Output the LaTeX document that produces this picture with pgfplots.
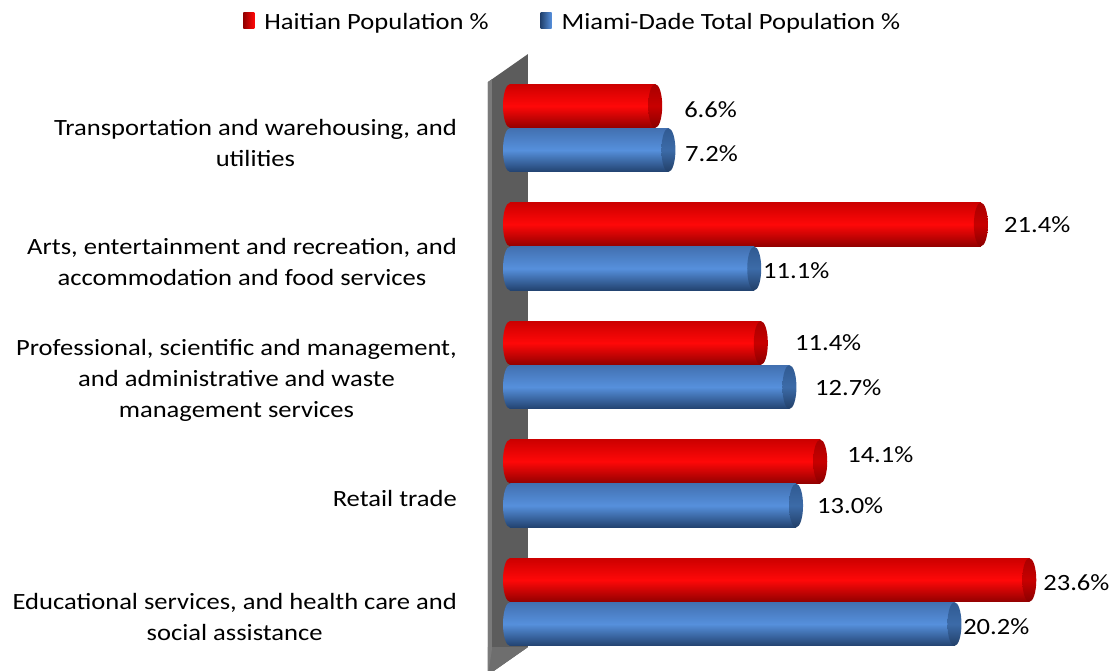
\documentclass[border=0pt]{standalone}
\usepackage{fontspec}
\setmainfont{Carlito}[FakeStretch=1.14]
\usepackage{pgfplots}
\usetikzlibrary{shapes.geometric}
\pgfplotsset{compat=1.18}
\definecolor{rtop}{HTML}{CC0000}
\definecolor{rmid}{HTML}{FF0808}
\definecolor{rbot}{HTML}{920000}
\definecolor{rcapt}{HTML}{A80000}
\definecolor{rcapm}{HTML}{C80000}
\definecolor{rcapb}{HTML}{8A0000}
\definecolor{btop}{HTML}{4270B0}
\definecolor{bmid}{HTML}{5690DC}
\definecolor{bbot}{HTML}{22426F}
\definecolor{bcapt}{HTML}{305A92}
\definecolor{bcapm}{HTML}{3C6BA8}
\definecolor{bcapb}{HTML}{223F68}
\definecolor{wall}{HTML}{5C5C5C}
\definecolor{wallL}{HTML}{7A7A7A}
\definecolor{wallB}{HTML}{6E6E6E}
\pgfplotsset{
  redbar/.style={xbar, bar shift=0pt, bar width=0.37, draw=none,
    top color=rtop, bottom color=rbot, middle color=rmid, forget plot},
  bluebar/.style={xbar, bar shift=0pt, bar width=0.37, draw=none,
    top color=btop, bottom color=bbot, middle color=bmid, forget plot},
  ends/.style n args={3}{only marks, mark=none, forget plot,
    nodes near coords={}, nodes near coords style={anchor=center, shape=ellipse,
      inner sep=0pt, outer sep=0pt, minimum width=14bp, minimum height=43.8bp,
      top color=#1, bottom color=#3, middle color=#2}},
}
\begin{document}
\begin{tikzpicture}[font=\fontsize{23.3bp}{31bp}\selectfont]
\path[use as bounding box] (0,0) rectangle (1114bp,671bp);
\begin{axis}[
  scale only axis, width=604bp, height=616.2bp,
  at={(510bp,-2.1bp)}, anchor=south west,
  xmin=0, xmax=27.45, ymin=-0.6, ymax=4.6,
  clip=false,
  axis line style={draw=none},
  xtick=\empty,
  ytick={0,1,2,3,4},
  yticklabels={{Educational services, and health care and\\social assistance},
               {Retail trade},
               {Professional, scientific and management,\\and administrative and waste\\management services},
               {Arts, entertainment and recreation, and\\accommodation and food services},
               {Transportation and warehousing, and\\utilities}},
  yticklabel style={align=center, inner sep=0pt, xshift=-53bp, yshift=-15bp, anchor=east},
  major tick length=0pt,
  legend columns=2,
  legend style={draw=none, fill=none, at={(0.104,1.057)}, anchor=center,
    /tikz/every even column/.append style={column sep=50bp}},
  legend cell align=left,
]
% wall
\fill[wall] (axis cs:-1,4.388) -- (axis cs:0.818,4.624) -- (axis cs:0.818,-0.38) -- (axis cs:-1,-0.616) -- cycle;
\fill[wallB] (axis cs:-1,-0.38) -- (axis cs:0.818,-0.38) -- (axis cs:-1,-0.616) -- cycle;
\fill[wallL] (axis cs:-1,4.388) -- (axis cs:-0.82,4.411) -- (axis cs:-0.82,-0.40) -- (axis cs:-1,-0.616) -- cycle;

% legend entries
\addlegendimage{legend image code/.code={\path[draw=none] (0bp,0bp) -- (19bp,0bp);\shade[draw=none, left color=rbot, right color=rmid] (0bp,-6.5bp) rectangle (11bp,9.5bp);}}
\addlegendentry{Haitian Population \%}
\addlegendimage{legend image code/.code={\path[draw=none] (0bp,0bp) -- (19bp,0bp);\shade[draw=none, left color=bbot, right color=bmid] (0bp,-6.5bp) rectangle (11bp,9.5bp);}}
\addlegendentry{Miami-Dade Total Population \%}

% rounded left ends of the cylinders
\addplot[ends={rtop}{rmid}{rbot}]
  coordinates {(0,0.186) (0,1.186) (0,2.186) (0,3.186) (0,4.186)};
\addplot[ends={btop}{bmid}{bbot}]
  coordinates {(0,-0.186) (0,0.814) (0,1.814) (0,2.814) (0,3.814)};

% Haitian Population % (red), one plot per bar so each is shaded on its own
\addplot[redbar] coordinates {(23.6,0.186)};
\addplot[redbar] coordinates {(14.1,1.186)};
\addplot[redbar] coordinates {(11.4,2.186)};
\addplot[redbar] coordinates {(21.4,3.186)};
\addplot[redbar] coordinates {(6.6,4.186)};
% Miami-Dade Total Population % (blue)
\addplot[bluebar] coordinates {(20.2,-0.186)};
\addplot[bluebar] coordinates {(13.0,0.814)};
\addplot[bluebar] coordinates {(12.7,1.814)};
\addplot[bluebar] coordinates {(11.1,2.814)};
\addplot[bluebar] coordinates {(7.2,3.814)};

% end caps
\addplot[ends={rcapt}{rcapm}{rcapb}]
  coordinates {(23.6,0.186) (14.1,1.186) (11.4,2.186) (21.4,3.186) (6.6,4.186)};
\addplot[ends={bcapt}{bcapm}{bcapb}]
  coordinates {(20.2,-0.186) (13.0,0.814) (12.7,1.814) (11.1,2.814) (7.2,3.814)};

% data labels
\addplot[only marks, mark=none, forget plot, point meta=explicit symbolic,
  nodes near coords, nodes near coords style={anchor=west, inner sep=0pt, text=black}]
  coordinates {
  (7.91,4.152) [6.6\%]
  (7.95,3.781) [7.2\%]
  (22.45,3.181) [21.4\%]
  (11.5,2.793) [11.1\%]
  (12.95,2.186) [11.4\%]
  (13.86,1.806) [12.7\%]
  (15.32,1.241) [14.1\%]
  (13.95,0.810) [13.0\%]
  (24.23,0.160) [23.6\%]
  (20.59,-0.211) [20.2\%]
  };
\end{axis}
\end{tikzpicture}
\end{document}
